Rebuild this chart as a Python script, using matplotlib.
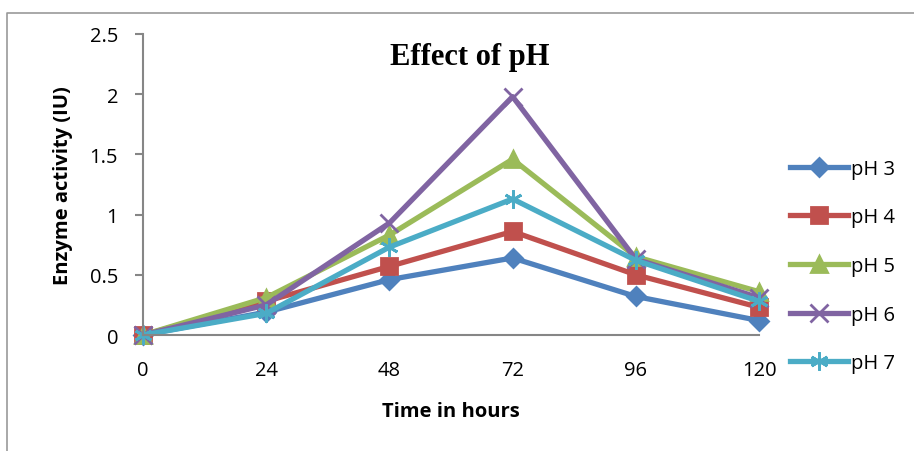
import numpy as np
import matplotlib.pyplot as plt
from matplotlib.lines import Line2D

hours = [0, 24, 48, 72, 96, 120]
ph3 = [0, 0.19, 0.46, 0.64, 0.32, 0.12]
ph4 = [0, 0.28, 0.57, 0.86, 0.50, 0.23]
ph5 = [0, 0.31, 0.83, 1.46, 0.65, 0.36]
ph6 = [0, 0.25, 0.93, 1.98, 0.63, 0.31]
ph7 = [0, 0.18, 0.73, 1.13, 0.62, 0.28]
labels = ["pH 3", "pH 4", "pH 5", "pH 6", "pH 7"]

colors = ["#4F81BD", "#C0504D", "#9BBB59", "#8064A2", "#4BACC6"]
markers = ["D", "s", "^", "x", (6, 2, 0)]
msizes = [9, 12, 11, 13, 13]
fnt = "Open Sans"

fig = plt.figure(figsize=(9.14, 4.52), dpi=100)
ax = fig.add_axes([143/914, 1-336/452, (759-143)/914, (336-35)/452])

for i, ys in enumerate([ph3, ph4, ph5, ph6, ph7]):
    ax.plot(hours, ys, color=colors[i], lw=3.8, marker=markers[i], ms=msizes[i],
            mew=2, label=labels[i], clip_on=False)

ax.set_xlim(0, 120)
ax.set_ylim(0, 2.5)
ax.set_xticks(hours)
ax.set_yticks([0, 0.5, 1, 1.5, 2, 2.5])
ax.set_yticklabels(["0", "0.5", "1", "1.5", "2", "2.5"])
for s in ["top", "right"]:
    ax.spines[s].set_visible(False)
for s in ["left", "bottom"]:
    ax.spines[s].set_color("#868686")
    ax.spines[s].set_linewidth(1.5)
ax.tick_params(axis="y", length=6, color="#868686", width=1.5, labelsize=14.5, pad=12)
ax.tick_params(axis="x", length=0, labelsize=14.5, pad=18)
for t in ax.get_xticklabels() + ax.get_yticklabels():
    t.set_fontfamily(fnt)

ax.set_xlabel("Time in hours", fontsize=14.5, fontweight="bold", family=fnt, labelpad=15)
ax.set_ylabel("Enzyme activity (IU)", fontsize=14.5, fontweight="bold", family=fnt, labelpad=12)
fig.text(470/914, 1-57/452, "Effect of pH", ha="center", va="center",
         fontsize=22, fontweight="bold", family="Liberation Serif")

ax.legend(loc="center left", bbox_to_anchor=(790/914, 1-267/452), bbox_transform=fig.transFigure,
          frameon=False, prop={"family": fnt, "size": 14.5}, handlelength=2.9,
          labelspacing=1.42, handletextpad=0.15, borderaxespad=0, borderpad=0)

fig.add_artist(Line2D([7/914, 7/914, 1.01], [-0.01, 1-14/452, 1-14/452],
                      transform=fig.transFigure, color="#999999", lw=1.2))

fig.savefig("out.png", dpi=100)
